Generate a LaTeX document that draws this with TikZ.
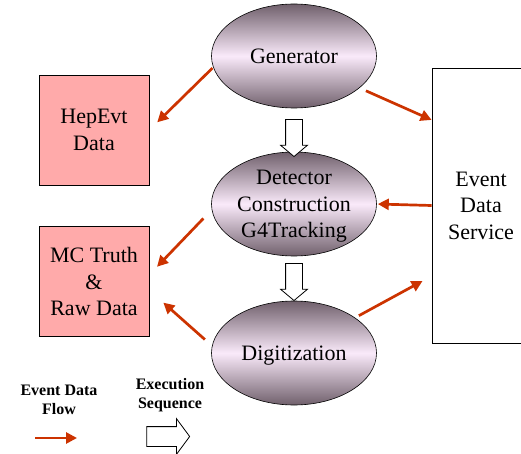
\documentclass[tikz,border=0pt]{standalone}
\usepackage{fontspec}
\setmainfont{Liberation Serif}
\newfontfamily\timesfont{Liberation Serif}
\usetikzlibrary{shapes.geometric,shapes.arrows,arrows.meta}

\definecolor{flowred}{RGB}{204,51,0}
\definecolor{boxpink}{RGB}{255,170,170}
\definecolor{ovaldark}{RGB}{112,96,108}
\definecolor{ovallight}{RGB}{250,234,250}

\tikzset{
  flow/.style={draw=flowred,line width=2.7pt,-{Triangle[length=11pt,width=11pt]}},
  seqarrow/.style={single arrow,draw,fill=white,line width=0.8pt},
  bigtext/.style={font=\timesfont\fontsize{22}{26.5}\selectfont},
}

\begin{document}
\begin{tikzpicture}[x=1pt,y=-1pt]
      \clip (0,0) rectangle (521,454);

      % processing steps
      \begin{scope}[every node/.style={ellipse,draw,line width=0.6pt,inner sep=0pt,
          minimum width=165pt,minimum height=104pt,align=center,bigtext,text depth=0pt,
          top color=ovaldark,bottom color=ovaldark,middle color=ovallight}]
        \node (gen)  at (294,56)  {Generator};
        \node (det)  at (294,204) {Detector\\Construction\\G4Tracking};
        \node (digi) at (294,353) {Digitization};
      \end{scope}

      % data stores
      \begin{scope}[every node/.style={rectangle,draw,line width=0.8pt,fill=boxpink,
          minimum width=110pt,minimum height=110pt,align=center,bigtext}]
        \node (hep) at (94,130)   {HepEvt\\Data};
        \node (mc)  at (94,281.5) {MC Truth\\\&\\Raw Data};
      \end{scope}
      \node[rectangle,draw,line width=0.8pt,fill=white,minimum width=98pt,
        minimum height=275pt,align=center,bigtext] (eds) at (481,205.5) {Event\\Data\\Service};

      % execution sequence
      \begin{scope}[every node/.style={seqarrow,shape border rotate=270,inner sep=8pt,
          minimum height=37pt,single arrow head extend=5pt,single arrow tip angle=100}]
        \node (seq1) at (294,134.5) {};
        \node (seq2) at (294,278.5) {};
      \end{scope}

      % event data flow
      \path (gen.188)  edge[flow,shorten <=1pt,shorten >=11pt] (hep.east);
      \path (gen.-26)  edge[flow,shorten <=7pt] (eds.120);
      \path (eds.west) edge[flow,shorten >=1pt] (det.east);
      \path (det.184)  edge[flow,shorten <=12pt,shorten >=11pt] (mc.7);
      \path (digi.175) edge[flow,shorten <=9.5pt,shorten >=18.6pt] (mc.-9.5);
      \path (digi.30)  edge[flow,shorten <=4.3pt,shorten >=10.3pt] (eds.235);

      % legend
      \begin{scope}[every node/.style={align=center,font=\timesfont\bfseries\fontsize{16}{19.5}\selectfont}]
        \node (flowkey) at (59,400) {Event Data\\Flow};
        \node (seqkey)  at (170,395) {Execution\\Sequence};
      \end{scope}
      \coordinate (flowa) at (35,438);
      \coordinate (flowb) at (77,438);
      \path (flowa) edge[flow] (flowb);
      \node[seqarrow,inner sep=9.5pt,minimum height=43pt,single arrow head extend=8pt,
        single arrow tip angle=107] (seqsym) at (164.5,436.5) {};

    \end{tikzpicture}
\end{document}
